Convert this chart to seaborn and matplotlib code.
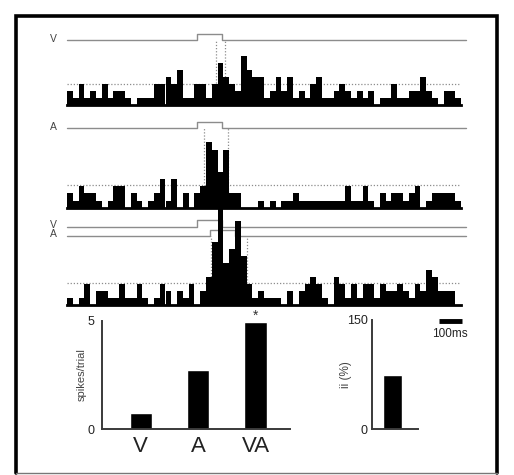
import numpy as np
import pandas as pd
import matplotlib
matplotlib.use("Agg")
import matplotlib.pyplot as plt
import seaborn as sns

sns.set_style("white")
plt.rcParams["font.family"] = ["Liberation Sans", "DejaVu Sans"]

# ---------------------------------------------------------------------------
# Data
# ---------------------------------------------------------------------------

BIN_MS = 25
T_START = -560          # ms, left edge of first bin (0 = visual onset)

# spike counts per 25 ms bin
v_counts = [2, 1, 3, 1, 2, 1, 3, 1, 2, 2,
            1, 0, 1, 1, 1, 3, 3, 4, 3, 5,
            1, 1, 3, 3, 1, 3, 6, 4, 3, 2,
            7, 5, 4, 4, 1, 2, 4, 2, 4, 1,
            2, 1, 3, 4, 1, 1, 2, 3, 2, 1,
            2, 1, 2, 0, 1, 1, 3, 1, 1, 2,
            2, 4, 2, 1, 0, 2, 2, 1]
a_counts = [2, 1, 3, 2, 2, 1, 0, 1, 3, 3,
            0, 2, 1, 0, 1, 2, 4, 1, 4, 0,
            2, 0, 2, 3, 9, 8, 5, 8, 2, 2,
            0, 0, 0, 1, 0, 1, 0, 1, 1, 2,
            1, 1, 1, 1, 1, 1, 1, 1, 3, 1,
            1, 3, 1, 0, 2, 1, 2, 2, 1, 2,
            3, 0, 1, 2, 2, 2, 2, 1]
va_counts = [1, 0, 1, 3, 0, 2, 2, 1, 1, 3,
             1, 1, 3, 1, 0, 1, 3, 2, 0, 2,
             1, 3, 0, 2, 4, 9, 14, 6, 8, 12,
             7, 3, 1, 2, 1, 1, 1, 0, 2, 0,
             2, 3, 4, 3, 1, 0, 4, 3, 1, 3,
             1, 3, 3, 1, 3, 2, 2, 3, 2, 1,
             3, 2, 5, 4, 2, 2, 2, 0]

# criterion level (dotted line) per condition
v_crit, a_crit, va_crit = 3.0, 3.15, 3.2

# stimulus on/off (ms)
v_stim = (0, 110)
a_stim = (0, 110)
va_v_stim = (0, 110)
va_a_stim = (58, 166)

# response windows (ms)
v_win = (83, 122)
a_win = (31, 135)
va_win = (63, 218)

# summary bars
conditions = ["V", "A", "VA"]
spikes_per_trial = [0.75, 2.75, 4.95]
ii_label = ["VA"]
ii_values = [74]

# ---------------------------------------------------------------------------
# Layout helpers (pixel positions on a 514x475 canvas)
# ---------------------------------------------------------------------------

W, H = 514, 475
fig = plt.figure(figsize=(W / 100, H / 100), dpi=100)


def add_ax(left, top, right, bottom):
    ax = fig.add_axes([left / W, 1 - bottom / H, (right - left) / W, (bottom - top) / H])
    ax.patch.set_alpha(0)
    return ax


def fx(px):
    return px / W


def fy(py):
    return 1 - py / H


n_bins = len(v_counts)
T_END = T_START + BIN_MS * n_bins
centers = T_START + BIN_MS * (np.arange(n_bins) + 0.5)
TRACE_END = T_START + 1720
GREY = "#8c8c8c"
DOT = "#8c8c8c"


def trace(ax, stim, level, h):
    on, off = stim
    ax.plot([T_START, on, on, off, off, TRACE_END],
            [level, level, level + h, level + h, level, level],
            color=GREY, lw=1.0, clip_on=False, zorder=1)


def psth(ax, counts, crit, win, win_top, ytop):
    df = pd.DataFrame({"t": centers, "n": counts})
    sns.histplot(data=df, x="t", weights="n", binwidth=BIN_MS,
                 binrange=(T_START, T_END), color="black",
                 alpha=1, linewidth=0, ax=ax, zorder=3)
    ax.hlines(crit, T_START, T_END, colors=DOT, linestyles=(0, (1, 1.5)), lw=0.9, zorder=2)
    ax.vlines(win, 0, win_top, colors=DOT, linestyles=(0, (1, 1.5)), lw=0.9, zorder=2)
    ax.set_xlim(T_START, T_END)
    ax.set_ylim(0, ytop)
    ax.set_xticks([])
    ax.set_yticks([])
    ax.set_xlabel("")
    ax.set_ylabel("")
    for s in ["top", "right", "left"]:
        ax.spines[s].set_visible(False)
    ax.spines["bottom"].set_color("black")
    ax.spines["bottom"].set_linewidth(2)
    ax.spines["bottom"].set_zorder(4)


# ---------------------------------------------------------------------------
# PSTHs
# ---------------------------------------------------------------------------

# V
ax1 = add_ax(67, 29, 461, 105)
psth(ax1, v_counts, v_crit, v_win, 9.24, 76 / 7)
trace(ax1, v_stim, 9.24, 0.86)
fig.text(fx(53), fy(39), "V", fontsize=7.5, color="#444444", ha="center", va="center")

# A
ax2 = add_ax(67, 116, 461, 208)
psth(ax2, a_counts, a_crit, a_win, 11.0, 92 / 7.3)
trace(ax2, a_stim, 11.0, 0.78)
fig.text(fx(53), fy(127), "A", fontsize=7.5, color="#444444", ha="center", va="center")

# VA
ax3 = add_ax(67, 201, 461, 305)
psth(ax3, va_counts, va_crit, va_win, 9.86, 104 / 7)
trace(ax3, va_v_stim, 11.19, 0.9)
trace(ax3, va_a_stim, 9.86, 0.8)
fig.text(fx(53), fy(225), "V", fontsize=7.5, color="#444444", ha="center", va="center")
fig.text(fx(53), fy(234), "A", fontsize=7.5, color="#444444", ha="center", va="center")

# ---------------------------------------------------------------------------
# Summary bars
# ---------------------------------------------------------------------------

SPINE = "#3a3a3a"


def style_bar_ax(ax):
    for s in ["top", "right"]:
        ax.spines[s].set_visible(False)
    for s in ["left", "bottom"]:
        ax.spines[s].set_color(SPINE)
        ax.spines[s].set_linewidth(1.4)
    ax.tick_params(length=0, colors="#222222")
    ax.set_xlabel("")
    ax.set_ylabel("")


ax4 = add_ax(101.7, 320.7, 290, 429.3)
sns.barplot(x=conditions, y=spikes_per_trial, color="black", saturation=1,
            width=0.39, ax=ax4)
ax4.set_xlim(-0.68, 2.6)
ax4.set_ylim(0, 5)
ax4.set_yticks([0, 5])
ax4.set_yticklabels(["0", "5"], fontsize=9)
style_bar_ax(ax4)
ax4.tick_params(axis="x", labelsize=16, pad=5)
ax4.tick_params(axis="y", pad=5)
fig.text(fx(82), fy(375), "spikes/trial", rotation=90, fontsize=8,
         color="#444444", ha="center", va="center")
fig.text(fx(256), fy(316), "*", fontsize=10, color="#333333", ha="center", va="center")

ax5 = add_ax(371.7, 320, 418.3, 429.3)
sns.barplot(x=ii_label, y=ii_values, color="black", saturation=1,
            width=0.4, ax=ax5)
ax5.set_xlim(-0.444, 0.537)
ax5.set_ylim(0, 150)
ax5.set_yticks([0, 150])
ax5.set_yticklabels(["0", "150"], fontsize=9)
ax5.set_xticks([])
style_bar_ax(ax5)
ax5.tick_params(axis="y", pad=3)
fig.text(fx(346), fy(375), "ii (%)", rotation=90, fontsize=8.5,
         color="#444444", ha="center", va="center")

# scale bar
fig.add_artist(plt.Line2D([fx(439), fx(462)], [fy(321), fy(321)],
                          color="black", lw=3.5, solid_capstyle="butt"))
fig.text(fx(450), fy(334), "100ms", fontsize=8.5, color="#222222", ha="center", va="center")

# frame: heavy left/top/right, thin bottom
fig.add_artist(plt.Line2D([fx(16), fx(16), fx(497), fx(497)],
                          [fy(473), fy(16), fy(16), fy(473)],
                          color="black", lw=2.6, solid_joinstyle="miter"))
fig.add_artist(plt.Line2D([fx(16), fx(497)], [fy(473), fy(473)],
                          color="#777777", lw=1.0))

fig.savefig("out.png", dpi=100)
